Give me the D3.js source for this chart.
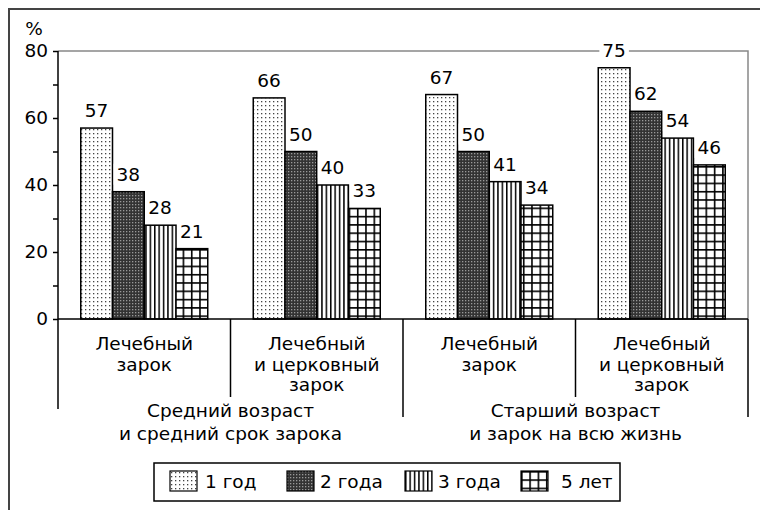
<!DOCTYPE html>
<html>
<head>
<meta charset="utf-8">
<script src="https://cdn.jsdelivr.net/npm/d3@7"></script>
<style>
  body { margin: 0; background: #fff; }
  svg { display: block; }
  text { font-family: "DejaVu Sans", sans-serif; font-size: 18.5px; fill: #000; }
</style>
</head>
<body>
<div id="chart"></div>
<script>

// chart data
const groups = [
    ["Средний возраст", "и средний срок зарока"],
    ["Старший возраст", "и зарок на всю жизнь"]
];
const categories = [
    ["Лечебный", "зарок"],
    ["Лечебный", "и церковный", "зарок"],
    ["Лечебный", "зарок"],
    ["Лечебный", "и церковный", "зарок"]
];
const seriesNames = ["1 год", "2 года", "3 года", "5 лет"];
const year1 = [57, 66, 67, 75];
const year2 = [38, 50, 50, 62];
const year3 = [28, 40, 41, 54];
const year5 = [21, 33, 34, 46];
const yTicks = [0, 10, 20, 30, 40, 50, 60, 70, 80];

const seriesValues = [year1, year2, year3, year5];

function buildChart() {
    const W = 760, H = 510;
    const left = 58, right = 748, top = 51, bottom = 319;

    const svg = d3.select("#chart")
        .append("svg")
        .attr("width", W)
        .attr("height", H);

    // outer frame (runs off the right/bottom edge like the original)
    svg.append("rect")
        .attr("x", 9).attr("y", 9)
        .attr("width", 800).attr("height", 600)
        .attr("fill", "none")
        .attr("stroke", "#444")
        .attr("stroke-width", 2);

    // PATTERNS
    const defs = svg.append("defs");

    const p1 = defs.append("pattern").attr("id", "pat0")
        .attr("patternUnits", "userSpaceOnUse").attr("width", 4).attr("height", 4);
    p1.append("rect").attr("width", 4).attr("height", 4).attr("fill", "#fff");
    p1.append("rect").attr("x", 1).attr("y", 1).attr("width", 1.3).attr("height", 1.3).attr("fill", "#444");

    const p2 = defs.append("pattern").attr("id", "pat1")
        .attr("patternUnits", "userSpaceOnUse").attr("width", 3).attr("height", 3);
    p2.append("rect").attr("width", 3).attr("height", 3).attr("fill", "#333");
    p2.append("rect").attr("x", 0).attr("y", 0).attr("width", 1.3).attr("height", 1.3).attr("fill", "#999");

    const p3 = defs.append("pattern").attr("id", "pat2")
        .attr("patternUnits", "userSpaceOnUse").attr("width", 4.4).attr("height", 4);
    p3.append("rect").attr("width", 4.4).attr("height", 4).attr("fill", "#fff");
    p3.append("rect").attr("x", 0).attr("y", 0).attr("width", 1.5).attr("height", 4).attr("fill", "#000");

    const p4 = defs.append("pattern").attr("id", "pat3")
        .attr("patternUnits", "userSpaceOnUse").attr("width", 8.3).attr("height", 8.3);
    p4.append("rect").attr("width", 8.3).attr("height", 8.3).attr("fill", "#fff");
    p4.append("rect").attr("x", 0).attr("y", 0).attr("width", 1.6).attr("height", 8.3).attr("fill", "#000");
    p4.append("rect").attr("x", 0).attr("y", 0).attr("width", 8.3).attr("height", 1.6).attr("fill", "#000");

    // SCALES
    const y = d3.scaleLinear().domain([0, 80]).range([bottom, top]);

    const xCat = d3.scaleBand()
        .domain(d3.range(categories.length))
        .range([left, right])
        .padding(0);

    const xGroup = d3.scaleBand()
        .domain(d3.range(groups.length))
        .range([left, right])
        .padding(0);

    const step = xCat.bandwidth();
    const barsWidth = 127;
    const xSeries = d3.scaleBand()
        .domain(d3.range(seriesNames.length))
        .range([(step - barsWidth) / 2, (step + barsWidth) / 2])
        .padding(0);

    // plot frame (grey, top and right)
    svg.append("path")
        .attr("d", `M${left},${top}H${right}V${bottom}`)
        .attr("fill", "none")
        .attr("stroke", "#888")
        .attr("stroke-width", 1.5);

    // BARS
    const barData = [];
    seriesValues.forEach((vals, s) => {
        vals.forEach((v, c) => barData.push({ s, c, v }));
    });

    svg.append("g").selectAll("rect")
        .data(barData)
        .enter()
        .append("rect")
        .attr("x", d => xCat(d.c) + xSeries(d.s))
        .attr("y", d => y(d.v))
        .attr("width", xSeries.bandwidth())
        .attr("height", d => y(0) - y(d.v))
        .attr("fill", d => `url(#pat${d.s})`)
        .attr("stroke", "#000")
        .attr("stroke-width", 1.5);

    // value labels with white backing
    const labels = svg.append("g").selectAll("g")
        .data(barData)
        .enter()
        .append("g");

    labels.append("text")
        .attr("x", d => xCat(d.c) + xSeries(d.s) + xSeries.bandwidth() / 2)
        .attr("y", d => y(d.v) - 11)
        .attr("text-anchor", "middle")
        .text(d => d.v);

    labels.each(function() {
        const g = d3.select(this);
        const bb = g.select("text").node().getBBox();
        g.insert("rect", "text")
            .attr("x", bb.x - 3).attr("y", bb.y)
            .attr("width", bb.width + 6).attr("height", bb.height)
            .attr("fill", "#fff");
    });

    // Y AXIS
    const yAxis = svg.append("g")
        .attr("transform", `translate(${left},0)`)
        .call(d3.axisLeft(y)
            .tickValues(yTicks)
            .tickSize(5)
            .tickSizeOuter(0)
            .tickPadding(5)
            .tickFormat(d => d % 20 === 0 ? d : ""));
    yAxis.select(".domain").remove();
    yAxis.selectAll("line").attr("stroke", "#000").attr("stroke-width", 1.5);
    yAxis.selectAll("text")
        .style("font-family", "DejaVu Sans, sans-serif")
        .style("font-size", "18.5px")
        .attr("fill", "#000");

    svg.append("text")
        .attr("x", 34).attr("y", 35)
        .attr("text-anchor", "middle")
        .text("%");

    // axis lines
    svg.append("line")
        .attr("x1", left).attr("x2", left)
        .attr("y1", top).attr("y2", 409)
        .attr("stroke", "#000").attr("stroke-width", 1.5);
    svg.append("line")
        .attr("x1", left).attr("x2", right)
        .attr("y1", bottom).attr("y2", bottom)
        .attr("stroke", "#000").attr("stroke-width", 1.5);

    // category separators (level 1)
    svg.append("g").selectAll("line")
        .data(d3.range(categories.length).filter(i => i % 2 === 1))
        .enter()
        .append("line")
        .attr("x1", d => xCat(d)).attr("x2", d => xCat(d))
        .attr("y1", bottom).attr("y2", 397)
        .attr("stroke", "#000").attr("stroke-width", 1.5);

    // group separators (level 2)
    svg.append("g").selectAll("line")
        .data(d3.range(1, groups.length + 1))
        .enter()
        .append("line")
        .attr("x1", d => left + d * xGroup.bandwidth())
        .attr("x2", d => left + d * xGroup.bandwidth())
        .attr("y1", bottom).attr("y2", 417)
        .attr("stroke", "#000").attr("stroke-width", 1.5);

    // category labels
    const catLabels = svg.append("g").selectAll("text")
        .data(categories)
        .enter()
        .append("text")
        .attr("text-anchor", "middle");
    catLabels.each(function(lines, i) {
        const t = d3.select(this);
        lines.forEach((ln, k) => {
            t.append("tspan")
                .attr("x", xCat(i) + step / 2)
                .attr("y", 350 + k * 20.5)
                .text(ln);
        });
    });

    // group labels
    const grpLabels = svg.append("g").selectAll("text")
        .data(groups)
        .enter()
        .append("text")
        .attr("text-anchor", "middle");
    grpLabels.each(function(lines, i) {
        const t = d3.select(this);
        lines.forEach((ln, k) => {
            t.append("tspan")
                .attr("x", xGroup(i) + xGroup.bandwidth() / 2)
                .attr("y", 417 + k * 23)
                .text(ln);
        });
    });

    // LEGEND
    const legend = svg.append("g");
    legend.append("rect")
        .attr("x", 154).attr("y", 463)
        .attr("width", 466).attr("height", 38)
        .attr("fill", "#fff")
        .attr("stroke", "#000")
        .attr("stroke-width", 1.5);

    const legendX = [170, 287, 405, 521];
    const items = legend.selectAll("g.item")
        .data(seriesNames)
        .enter()
        .append("g")
        .attr("class", "item")
        .attr("transform", (d, i) => `translate(${legendX[i]},471)`);

    items.append("rect")
        .attr("width", 27).attr("height", 20)
        .attr("fill", (d, i) => `url(#pat${i})`)
        .attr("stroke", "#000")
        .attr("stroke-width", 1.2);

    items.append("text")
        .attr("x", (d, i) => i === 3 ? 40 : (i === 0 ? 35 : 33))
        .attr("y", 17)
        .text(d => d);
}

buildChart();
</script>
</body>
</html>
